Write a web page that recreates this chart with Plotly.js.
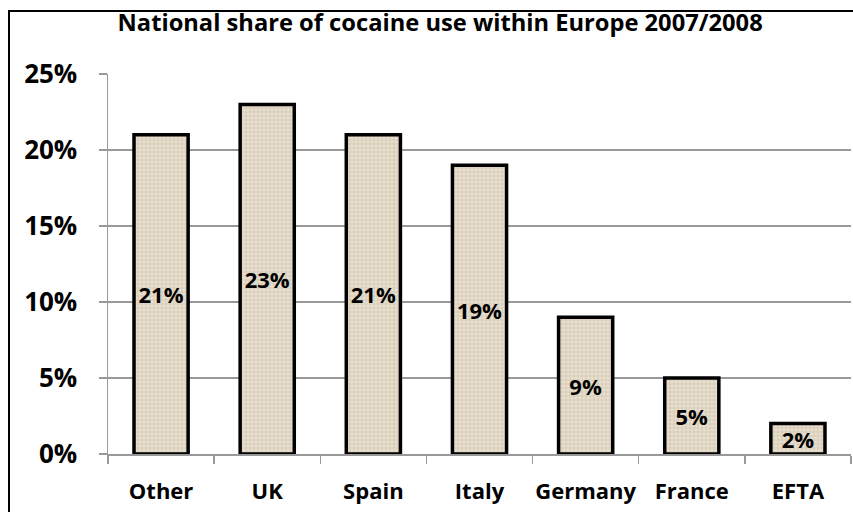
<!DOCTYPE html>
<html>
<head>
<meta charset="utf-8">
<script src="https://cdn.plot.ly/plotly-3.0.1.min.js"></script>
<style>
html,body{margin:0;padding:0;background:#fff;}
#frame{position:absolute;left:8px;top:10px;width:860px;height:520px;border-left:2px solid #000;border-top:2px solid #000;pointer-events:none;z-index:5;}
#chart{position:absolute;left:0;top:0;width:853px;height:512px;}
</style>
</head>
<body>
<div id="chart"></div>
<div id="frame"></div>
<script>
const categories = ["Other","UK","Spain","Italy","Germany","France","EFTA"];
const shares = [21,23,21,19,9,5,2];
const yTicks = [0,5,10,15,20,25];
const yTickLabels = ["0%","5%","10%","15%","20%","25%"];
const chartTitle = "National share of cocaine use within Europe 2007/2008";

const FONT = "Open Sans, Noto Sans, sans-serif";

const trace = {
  type: "bar",
  x: categories,
  y: shares,
  text: shares.map(v => v + "%"),
  texttemplate: "%{text}",
  textposition: "inside",
  insidetextanchor: "middle",
  textangle: 0,
  constraintext: "none",
  textfont: {family: FONT, size: 22, color: "#000", weight: "bold"},
  marker: {
    color: "#e4dac8",
    line: {color: "#000", width: 3.5},
    pattern: {shape: "+", fgcolor: "#c8bca8", bgcolor: "#e8dfce", size: 4, solidity: 0.25, fillmode: "replace"}
  },
  hoverinfo: "none"
};

const layout = {
  width: 853, height: 512,
  margin: {l: 108, r: 2, t: 74, b: 58},
  paper_bgcolor: "#fff",
  plot_bgcolor: "#fff",
  showlegend: false,
  bargap: 0.49,
  uniformtext: {mode: "show", minsize: 22},
  title: {
    text: "<b>" + chartTitle + "</b>",
    font: {family: FONT, size: 23.7, color: "#000"},
    x: 0.516, xref: "container", xanchor: "center",
    y: 0.955, yref: "container", yanchor: "middle"
  },
  xaxis: {
    type: "category",
    tickson: "boundaries",
    tickangle: 0,
    ticks: "outside",
    ticklen: 8,
    tickcolor: "#999",
    tickwidth: 1.5,
    showline: true,
    linecolor: "#999",
    linewidth: 1.5,
    showgrid: false,
    ticklabelstandoff: 17,
    tickfont: {family: FONT, size: 22, color: "#000", weight: "bold"}
  },
  yaxis: {
    range: [0, 25],
    tickvals: yTicks,
    ticktext: yTickLabels,
    ticks: "outside",
    ticklen: 8,
    tickcolor: "#999",
    tickwidth: 1.5,
    showline: true,
    linecolor: "#999",
    linewidth: 1.5,
    showgrid: true,
    gridcolor: "#999",
    gridwidth: 1.5,
    zeroline: false,
    ticklabelstandoff: 16,
    tickfont: {family: FONT, size: 26, color: "#000", weight: "bold"}
  }
};

Plotly.newPlot("chart", [trace], layout, {displayModeBar: false, staticPlot: true});
</script>
</body>
</html>
